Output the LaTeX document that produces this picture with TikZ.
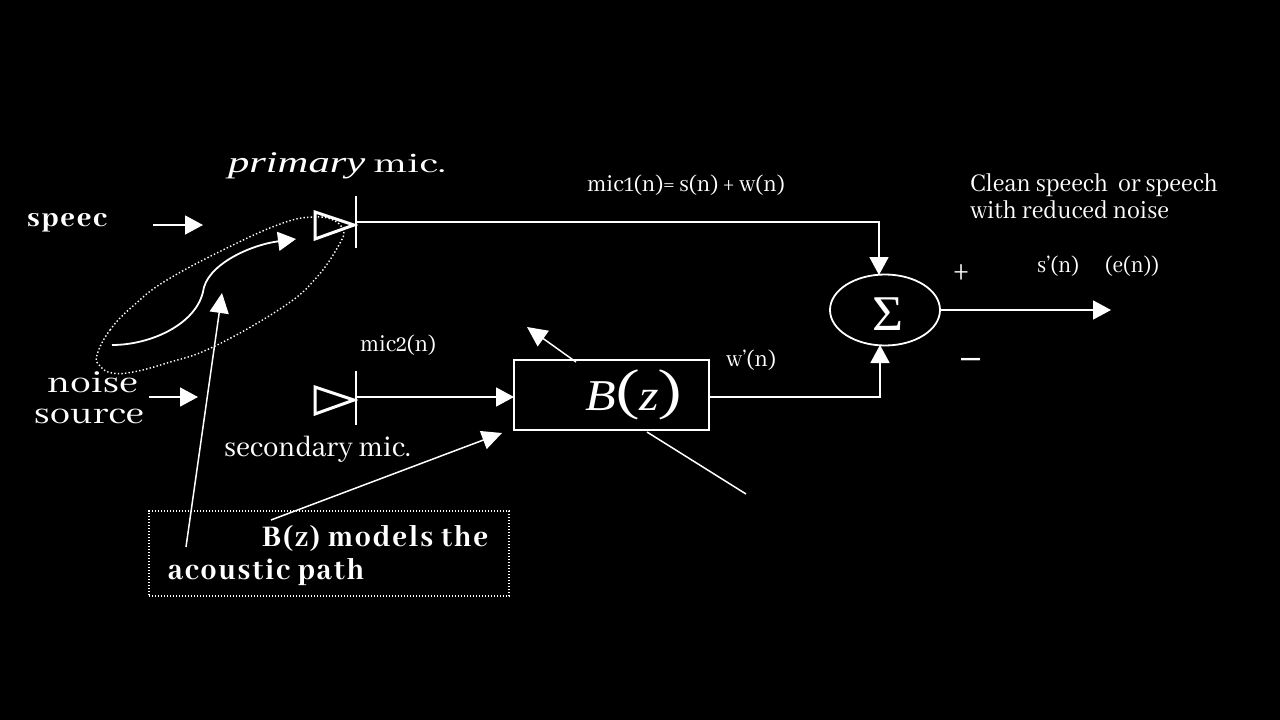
\documentclass[tikz,border=0pt]{standalone}
\usepackage{fontspec}
\usepackage{graphicx}
\setmainfont{Abhaya Libre}
\newfontfamily\itfont{Liberation Serif}
\newfontfamily\hvy[LetterSpace=6]{Abhaya Libre ExtraBold}
\usetikzlibrary{arrows.meta,shapes.geometric}
\newcommand{\fitw}[2]{\resizebox{#1pt}{\height}{#2}}
\tikzset{
  lbl/.style={anchor=base west,inner sep=0pt,outer sep=0pt,text=white},
  wire/.style={draw=white,line width=1.8pt},
  thin wire/.style={draw=white,line width=1.5pt},
  tip/.style={-{Triangle[length=18pt,width=19pt]}},
  bigtip/.style={-{Triangle[length=20pt,width=19pt]}},
  mic/.style={draw=white,line width=3pt,miter limit=10},
  dots/.style={draw=white,line width=1.3pt,dash pattern=on 1.3pt off 1.7pt},
  edots/.style={draw=white,line width=1.4pt,dash pattern=on 1.4pt off 2.2pt},
}
\begin{document}
\begin{tikzpicture}[x=1pt,y=-1pt]
\fill[black] (0,0) rectangle (1280,720);
\useasboundingbox (0,0) rectangle (1280,720);
% coordinates
\coordinate (m1top) at (356,196);
\coordinate (m1bot) at (356,248);
\coordinate (m1out) at (356,222);
\coordinate (m1corner) at (879,222);
\coordinate (sumin1) at (879,275);
\coordinate (m2top) at (356,371);
\coordinate (m2bot) at (356,425);
\coordinate (m2out) at (356,397);
\coordinate (boxin) at (514,397);
\coordinate (boxout) at (709,397);
\coordinate (m2corner) at (880,397);
\coordinate (sumin2) at (880,345);
\coordinate (sumout) at (940,310);
\coordinate (result) at (1111,310);
% blocks
\node[draw=white,line width=1.8pt,ellipse,minimum width=110pt,minimum height=71pt,inner sep=0pt] (sum) at (885,310) {};
\node[text=white,inner sep=0pt] (sigma) at (888,314) {\itfont\fontsize{50}{50}\selectfont\fitw{31}{Σ}};
\node[draw=white,line width=1.8pt,minimum width=195pt,minimum height=70pt,inner sep=0pt] (bz) at (611.5,395) {};
\node[lbl] (bztext) at (585,410) {\fitw{98}{{\itfont\itshape\fontsize{44}{44}\selectfont B}{\fontsize{64}{64}\selectfont(}{\itfont\itshape\fontsize{44}{44}\selectfont z}{\fontsize{64}{64}\selectfont)}}};
% mics
\draw[mic] (315,212) -- (354,225) -- (315,239) -- cycle;
\draw[mic] (315,387) -- (354,400) -- (315,414) -- cycle;
\draw[thin wire] (m1top) -- (m1bot);
\draw[thin wire] (m2top) -- (m2bot);
% connectors
\draw[wire,tip] (m1out) -- (m1corner) -- (sumin1);
\draw[wire,tip] (m2out) -- (boxin);
\draw[wire,tip] (boxout) -- (m2corner) -- (sumin2);
\draw[wire,tip] (sumout) -- (result);
% source arrows
\coordinate (sp1) at (153,225); \coordinate (sp2) at (203,225);
\coordinate (no1) at (149,397); \coordinate (no2) at (198,397);
\draw[wire,tip] (sp1) -- (sp2);
\draw[wire,tip] (no1) -- (no2);
% acoustic path
\coordinate (c1) at (112,345); \coordinate (c2) at (203,292); \coordinate (c3) at (296,239);
\draw[wire,tip] (c1) .. controls (150,345) and (195,325) .. (c2) .. controls (206,265) and (250,245) .. (c3);
\draw[edots] plot[smooth cycle,tension=0.7] coordinates {(97,355) (110,330) (133,306) (167,280) (233,245) (283,223) (313,217) (333,220) (343,230) (340,243) (317,277) (283,307) (213,347) (167,363) (133,372) (112,373) (100,366)};
% annotation
\node[dots,minimum width=360pt,minimum height=85pt,inner sep=0pt] (note) at (329,553.5) {};
\coordinate (a1) at (186,547); \coordinate (a2) at (222,293);
\coordinate (b1) at (271,520); \coordinate (b2) at (502,433);
\draw[thin wire,bigtip] (a1) -- (a2);
\draw[thin wire,bigtip] (b1) -- (b2);
% adaptation
\coordinate (d1) at (576,362); \coordinate (d2) at (527,327);
\coordinate (e1) at (647,432); \coordinate (e2) at (746,494);
\draw[thin wire,bigtip] (d1) -- (d2);
\draw[thin wire] (e1) -- (e2);
% labels
\node[lbl] (tprim) at (228,172) {\fitw{218}{\fontsize{30}{30}\selectfont{\itfont\itshape primary} mic.}};
\node[lbl] (tspeec) at (27,226) {\fitw{80}{\fontsize{30}{30}\selectfont\hvy speec}};
\node[lbl] (tnoise) at (47,392) {\fitw{91}{\fontsize{34}{34}\selectfont noise}};
\node[lbl] (tsource) at (34,423) {\fitw{110}{\fontsize{34}{34}\selectfont source}};
\node[lbl] (tsec) at (224,456) {\fitw{187}{\fontsize{32}{32}\selectfont secondary mic.}};
\node[lbl] (tmic2) at (360,351) {\fitw{76}{\fontsize{26}{26}\selectfont mic2(n)}};
\node[lbl] (tmic1) at (587,191) {\fitw{198}{\fontsize{26}{26}\selectfont mic1(n)= s(n) + w(n)}};
\node[lbl] (tw) at (726,366) {\fitw{50}{\fontsize{26}{26}\selectfont w'(n)}};
\node[lbl] (tclean) at (970,191) {\fitw{248}{\fontsize{28}{28}\selectfont Clean speech\ \ or speech}};
\node[lbl] (twith) at (970,218) {\fitw{199}{\fontsize{28}{28}\selectfont with reduced noise}};
\node[lbl] (ts) at (1037,272) {\fitw{42}{\fontsize{26}{26}\selectfont s'(n)}};
\node[lbl] (te) at (1105,272) {\fitw{54}{\fontsize{26}{26}\selectfont (e(n))}};
\node[lbl] (tplus) at (953,281) {\fitw{16}{\fontsize{40}{40}\selectfont +}};
\node[lbl] (tminus) at (957,372) {\fitw{27}{\fontsize{60}{60}\selectfont –}};
\node[lbl] (tmodels) at (262,546) {\fitw{226}{\fontsize{33}{33}\selectfont\hvy B(z) models the}};
\node[lbl] (tacoustic) at (168,579) {\fitw{196}{\fontsize{33}{33}\selectfont\hvy acoustic path}};
\end{tikzpicture}
\end{document}
